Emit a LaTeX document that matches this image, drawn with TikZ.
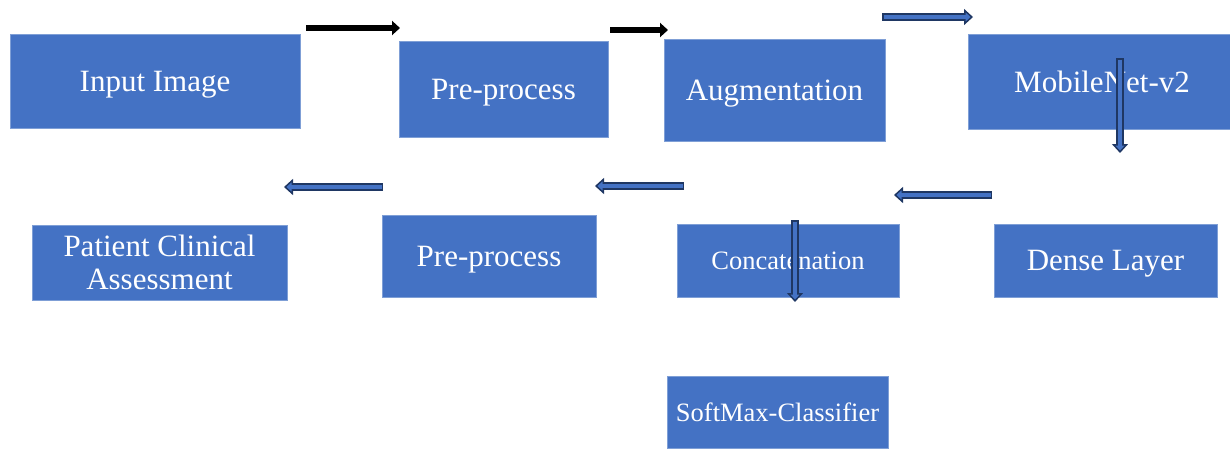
\documentclass[tikz,border=0pt]{standalone}
\usepackage{fontspec}
\setmainfont{Liberation Serif}
\usetikzlibrary{arrows.meta}

\definecolor{boxblue}{HTML}{4472C4}
\definecolor{boxedge}{HTML}{7F9FD6}
\definecolor{arrnavy}{HTML}{1F3763}

\tikzset{
	stage/.style={rectangle, fill=boxblue, draw=boxedge, line width=0.8pt, text=white,
		inner sep=0pt, text depth=0pt, align=center, font=\fontsize{31}{33}\selectfont},
	smallstage/.style={stage, font=\fontsize{26.5}{29}\selectfont},
	blackarr/.style={line width=6.5pt, -{Triangle[length=8pt,width=14pt]}},
	bluearr/.style={draw=arrnavy, line width=7.5pt,
		-{Triangle[length=9pt,width=16pt,line width=1.5pt,fill=boxblue]},
		postaction={draw=boxblue, line width=3.5pt, shorten >=7pt, shorten <=1.5pt, -}}
}

\begin{document}
\begin{tikzpicture}[x=1pt, y=-1pt]
	\useasboundingbox (0,0) rectangle (1230,448);
	\clip (0,0) rectangle (1230,448);

	% top row
	\node [stage, minimum width=290pt, minimum height=94pt] (input) at (155,81) {Input Image};
	\node [stage, minimum width=209pt, minimum height=96pt] (prep1) at (503.5,89) {Pre-process};
	\node [stage, minimum width=221pt, minimum height=102pt] (augm) at (774.5,90) {Augmentation};
	\node [stage, minimum width=268pt, minimum height=95pt] (mobnet) at (1102,81.5) {MobileNet-v2};

	% bottom row
	\node [stage, minimum width=223pt, minimum height=73pt] (dense) at (1105.5,260.5) {Dense Layer};
	\node [smallstage, minimum width=222pt, minimum height=73pt] (concat) at (788,260.5) {Concatenation};
	\node [stage, minimum width=214pt, minimum height=82pt] (prep2) at (489,256) {Pre-process};
	\node [stage, minimum width=255pt, minimum height=75pt] (patient) at (159.5,262.5) {Patient Clinical\\Assessment};
	\node [smallstage, minimum width=221pt, minimum height=72pt] (softmax) at (777.5,412) {SoftMax-Classifier};

	% arrow ends
	\coordinate (a1s) at (306,28);   \coordinate (a1e) at (400,28);
	\coordinate (a2s) at (610,30);   \coordinate (a2e) at (668,30);
	\coordinate (a3s) at (882,17);   \coordinate (a3e) at (973,17);
	\coordinate (a4s) at (1120,58);  \coordinate (a4e) at (1120,153);
	\coordinate (a5s) at (992,195);  \coordinate (a5e) at (894,195);
	\coordinate (a6s) at (684,186);  \coordinate (a6e) at (595,186);
	\coordinate (a7s) at (383,187);  \coordinate (a7e) at (284,187);
	\coordinate (a8s) at (795,220);  \coordinate (a8e) at (795,302);

	\draw [blackarr] (a1s) -- (a1e);
	\draw [blackarr] (a2s) -- (a2e);
	\draw [bluearr] (a3s) -- (a3e);
	\draw [bluearr] (a4s) -- (a4e);
	\draw [bluearr] (a5s) -- (a5e);
	\draw [bluearr] (a6s) -- (a6e);
	\draw [bluearr] (a7s) -- (a7e);
	\draw [bluearr] (a8s) -- (a8e);
\end{tikzpicture}
\end{document}
